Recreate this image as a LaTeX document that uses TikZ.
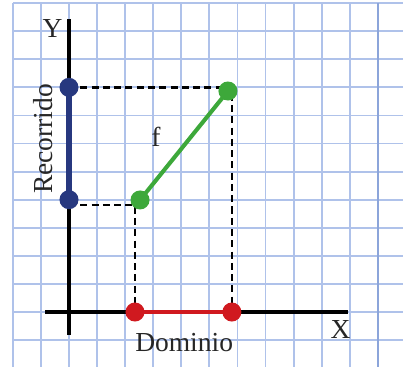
\documentclass[tikz,border=0pt]{standalone}
\usepackage{fontspec}
\newfontfamily\labelfont{Liberation Serif}
\usepackage{tikz}
\usetikzlibrary{arrows.meta,positioning}
\definecolor{gridblue}{HTML}{AFC2EA}
\definecolor{griddark}{HTML}{8CA5DA}
\definecolor{rangeblue}{HTML}{27387F}
\definecolor{fgreen}{HTML}{3DA83A}
\definecolor{domred}{HTML}{D0191F}
\tikzset{
  gridline/.style={draw=gridblue,line width=1.3pt},
  axis/.style={draw=black,line width=2.4pt},
  guide/.style={draw=black,line width=1.8pt,dash pattern=on 5pt off 3pt},
  segment/.style={line width=2.9pt},
  dot/.style={circle,inner sep=0pt,minimum size=13.5pt},
  lbl/.style={font=\labelfont\fontsize{19.5}{21}\selectfont,text=black!85,inner sep=0pt}
}

\begin{document}
\begin{tikzpicture}[x=0.7cm,y=0.7cm]
\useasboundingbox (-2.457,-1.959) rectangle (11.894,11.111);

% grid paper
\foreach \i in {-2,...,11}
  \draw[gridline] (\i,11) -- (\i,-1.959);
\foreach \j in {-1,...,11}
  \draw[gridline] (-2,\j) -- (11.894,\j);
\draw[gridline,draw=griddark] (11,11) -- (11,-1.959);

% points
\coordinate (rtop) at (0,8);
\coordinate (rbot) at (0,4);
\coordinate (fa) at (2.53,3.99);
\coordinate (fb) at (5.66,7.87);
\coordinate (da) at (2.35,0);
\coordinate (db) at (5.80,0);
\coordinate (lowguide) at (0,3.81);

% guides
\draw[guide] (rtop) -- (rtop -| db) -- (db);
\draw[guide] (lowguide) -- (lowguide -| da) -- (da);

% axes
\coordinate (ytop) at (0,10.43);
\coordinate (ybot) at (0,-0.82);
\coordinate (xleft) at (-0.85,0);
\coordinate (xright) at (9.94,0);
\draw[axis] (ybot) -- (ytop);
\draw[axis] (xleft) -- (xright);

% segments
\draw[segment,draw=rangeblue,line width=3.6pt] (rtop) -- (rbot);
\draw[segment,draw=fgreen] (fa) -- (fb);
\draw[segment,draw=domred] (da) -- (db);

\node[dot,fill=rangeblue] (rtopdot) at (rtop) {};
\node[dot,fill=rangeblue] (rbotdot) at (rbot) {};
\node[dot,fill=fgreen] (fadot) at (fa) {};
\node[dot,fill=fgreen] (fbdot) at (fb) {};
\node[dot,fill=domred] (dadot) at (da) {};
\node[dot,fill=domred] (dbdot) at (db) {};

% labels
\node[lbl] (ylbl) at (-0.59,10.08) {Y};
\node[lbl] (xlbl) at (9.67,-0.64) {X};
\node[lbl,anchor=base] (dom) at (4.1,-1.42) {Dominio};
\node[lbl,anchor=base,rotate=90] (rec) at (-0.6,6.16) {Recorrido};
\node[lbl,anchor=base] (flbl) at (3.10,5.88) {f};
\end{tikzpicture}
\end{document}
